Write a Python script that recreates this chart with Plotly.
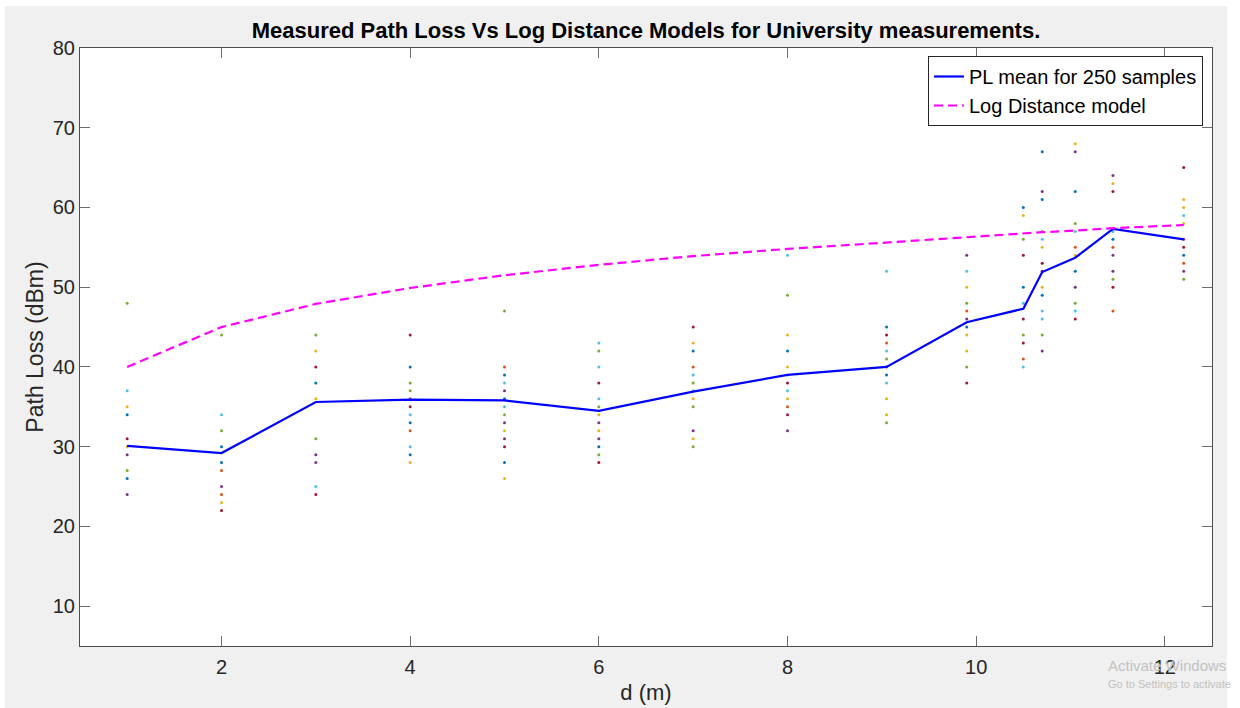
import plotly.graph_objects as go

# Measurement distances (m)
distances = [1, 2, 3, 4, 5, 6, 7, 8, 9.05, 9.9, 10.5, 10.7, 11.05, 11.45, 12.2]
# Mean path loss over 250 samples (dBm)
mean_pl = [30.1, 29.2, 35.6, 35.9, 35.8, 34.5, 36.9, 39.0, 40.0, 45.6, 47.3, 51.9, 53.7, 57.3, 56.0]
# Log distance model prediction (dBm)
logdist_pl = [40.0, 45.0, 47.9, 49.9, 51.5, 52.8, 53.9, 54.8, 55.6, 56.3, 56.7, 56.9, 57.1, 57.4, 57.8]

# Individual samples, grouped by plot colour
blue_d = [1, 1, 2, 2, 3, 4, 4, 4, 5, 5, 5, 6, 7, 8, 9.05, 9.05, 9.9, 10.5, 10.5, 10.7, 10.7, 10.7, 11.05, 11.05, 11.45, 12.2]
blue_pl = [34, 26, 30, 28, 38, 40, 33, 29, 39, 36, 28, 30, 42, 42, 45, 39, 45, 60, 50, 67, 61, 49, 62, 52, 56, 54]

orange_d = [2, 2, 4, 4, 5, 7, 8, 9.05, 9.05, 9.9, 10.5, 11.05, 11.45, 11.45, 12.2]
orange_pl = [27, 24, 36, 32, 40, 40, 35, 43, 40, 47, 41, 55, 55, 47, 53]

yellow_d = [1, 1, 2, 3, 3, 4, 5, 5, 6, 6, 7, 7, 7, 8, 8, 8, 9.05, 9.05, 9.9, 9.9, 9.9, 10.5, 10.7, 10.7, 11.05, 11.05, 11.45, 12.2, 12.2, 12.2]
yellow_pl = [35, 30, 23, 42, 36, 28, 32, 26, 34, 32, 43, 36, 31, 44, 40, 36, 36, 34, 50, 44, 42, 59, 55, 50, 68, 54, 63, 61, 60, 58]

purple_d = [1, 1, 2, 3, 3, 5, 5, 5, 6, 6, 7, 8, 9.9, 9.9, 10.7, 10.7, 11.05, 11.05, 11.45, 11.45, 11.45, 12.2, 12.2]
purple_pl = [29, 24, 25, 29, 28, 37, 33, 31, 33, 31, 32, 32, 54, 46, 62, 42, 67, 50, 64, 54, 52, 56, 52]

green_d = [1, 1, 2, 2, 3, 3, 4, 4, 5, 5, 6, 6, 6, 7, 7, 7, 8, 9.05, 9.05, 9.9, 9.9, 10.5, 10.5, 10.7, 10.7, 11.05, 11.05, 11.45, 12.2]
green_pl = [48, 27, 44, 32, 44, 31, 38, 37, 47, 34, 42, 35, 29, 38, 35, 30, 49, 41, 33, 48, 40, 56, 44, 57, 44, 58, 48, 51, 51]

cyan_d = [1, 2, 3, 4, 4, 5, 5, 6, 6, 6, 7, 7, 8, 8, 8, 9.05, 9.05, 9.05, 9.9, 10.5, 10.5, 10.7, 10.7, 10.7, 11.05, 11.05, 11.45, 12.2]
cyan_pl = [37, 34, 25, 34, 30, 38, 35, 43, 40, 36, 39, 37, 54, 39, 37, 52, 42, 38, 52, 48, 40, 56, 47, 46, 57, 47, 57, 59]

red_d = [1, 2, 3, 3, 4, 4, 5, 6, 6, 7, 8, 8, 9.05, 9.9, 10.5, 10.5, 10.5, 10.7, 10.7, 11.05, 11.45, 11.45, 12.2, 12.2]
red_pl = [31, 22, 40, 24, 44, 35, 30, 38, 28, 45, 38, 34, 44, 38, 54, 46, 43, 53, 52, 46, 62, 50, 65, 55]

sample_groups = [
    (blue_d, blue_pl, "#0072BD"),
    (orange_d, orange_pl, "#D95319"),
    (yellow_d, yellow_pl, "#EDB120"),
    (purple_d, purple_pl, "#7E2F8E"),
    (green_d, green_pl, "#77AC30"),
    (cyan_d, cyan_pl, "#4DBEEE"),
    (red_d, red_pl, "#A2142F"),
]

FONT = "Liberation Sans, Arial, Helvetica, sans-serif"
W, H = 1240, 708
L, R, T, B = 80, 28, 48, 62
PW, PH = W - L - R, H - T - B

fig = go.Figure()

for d, pl, col in sample_groups:
    fig.add_trace(go.Scatter(
        x=d, y=pl, mode="markers",
        marker=dict(color=col, size=3, line=dict(width=0)),
        showlegend=False, hoverinfo="x+y",
    ))

fig.add_trace(go.Scatter(
    x=distances, y=mean_pl, mode="lines",
    line=dict(color="#0000FF", width=2.2),
    name="PL mean for 250 samples",
))
fig.add_trace(go.Scatter(
    x=distances, y=logdist_pl, mode="lines",
    line=dict(color="#FF00FF", width=2.2, dash="9px,5px"),
    name="Log Distance model",
))

axis_common = dict(
    showline=True, linecolor="#4d4d4d", linewidth=1, mirror="ticks",
    ticks="inside", ticklen=10, tickcolor="#6e6e6e", tickwidth=1,
    showgrid=False, zeroline=False, automargin=False,
    tickfont=dict(family=FONT, size=20, color="#262626"),
)

fig.update_xaxes(
    range=[0.5, 12.5], tickvals=[2, 4, 6, 8, 10, 12],
    ticklabelstandoff=3,
    title=dict(text="d (m)", font=dict(family=FONT, size=22, color="#262626"), standoff=7),
    **axis_common,
)
fig.update_yaxes(
    range=[5, 80], tickvals=[10, 20, 30, 40, 50, 60, 70, 80],
    title=dict(text="Path Loss (dBm)", font=dict(family=FONT, size=23, color="#262626"), standoff=2),
    **axis_common,
)


def px_x(px):
    return (px - L) / PW


def px_y(py):
    return (H - B - py) / PH


# thin white border around the grey figure area
border = dict(type="rect", xref="paper", yref="paper", fillcolor="white",
              line=dict(width=0), layer="above")
shapes = [
    dict(border, x0=px_x(0), x1=px_x(W), y0=px_y(6), y1=px_y(0)),
    dict(border, x0=px_x(0), x1=px_x(5), y0=px_y(H), y1=px_y(0)),
    dict(border, x0=px_x(1227), x1=px_x(W), y0=px_y(H), y1=px_y(0)),
]

fig.update_layout(
    width=W, height=H,
    margin=dict(l=L, r=R, t=T, b=B, autoexpand=False),
    paper_bgcolor="#f0f0f0",
    plot_bgcolor="white",
    font=dict(family=FONT, size=20, color="#262626"),
    title=dict(
        text="<b>Measured Path Loss Vs Log Distance Models for University measurements.</b>",
        font=dict(family=FONT, size=22, color="black"),
        x=px_x(646), xref="paper", xanchor="center",
        y=1 - 30 / H, yref="container", yanchor="middle",
    ),
    legend=dict(
        x=px_x(1203), xanchor="right", y=px_y(56), yanchor="top",
        bgcolor="white", bordercolor="#262626", borderwidth=1,
        font=dict(family=FONT, size=20, color="black"),
        tracegroupgap=0, itemwidth=30,
    ),
    shapes=shapes,
    annotations=[
        dict(text="Activate Windows", xref="paper", yref="paper",
             x=px_x(1106), y=px_y(665), xanchor="left", yanchor="middle",
             showarrow=False, font=dict(family=FONT, size=15, color="#c2c2c2")),
        dict(text="Go to Settings to activate", xref="paper", yref="paper",
             x=px_x(1106), y=px_y(684), xanchor="left", yanchor="middle",
             showarrow=False, font=dict(family=FONT, size=11, color="#c2c2c2")),
    ],
)

fig.write_html("out.html")
